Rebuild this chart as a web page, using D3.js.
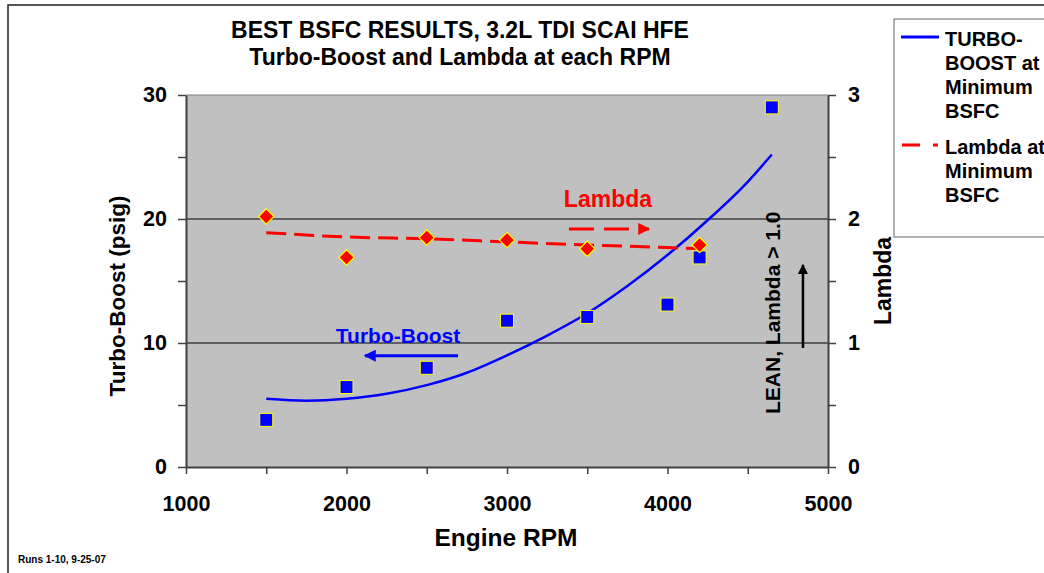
<!DOCTYPE html>
<html><head><meta charset="utf-8">
<script src="https://cdn.jsdelivr.net/npm/d3@7"></script>
<style>
html,body{margin:0;padding:0;background:#fff;}
svg{display:block;font-family:"Liberation Sans",Arial,sans-serif;font-weight:bold;}
</style></head>
<body>
<script>
// ---- data ----
const boostRpm = [1500, 2000, 2500, 3000, 3500, 4000, 4200, 4650];
const boostPsig = [3.8, 6.45, 8.0, 11.8, 12.1, 13.1, 16.9, 29.0];
const lambdaRpm = [1500, 2000, 2500, 3000, 3500, 4200];
const lambdaVal = [2.02, 1.69, 1.85, 1.83, 1.76, 1.79];
const boostTrendRpm = [1500, 1750, 2000, 2250, 2500, 2750, 3000, 3250, 3500, 3750, 4000, 4250, 4500, 4650];
const boostTrendVal = [5.5, 5.35, 5.5, 5.9, 6.6, 7.6, 9.0, 10.6, 12.4, 14.6, 17.1, 19.9, 23.0, 25.2];
const lambdaTrendRpm = [1500, 2000, 2500, 3000, 3500, 4000, 4200];
const lambdaTrendVal = [1.89, 1.855, 1.84, 1.815, 1.79, 1.77, 1.76];
const xTicks = [1000, 2000, 3000, 4000, 5000];
const yLeftTicks = [0, 10, 20, 30];
const yRightTicks = [0, 1, 2, 3];
const titleLines = ["BEST BSFC RESULTS, 3.2L TDI SCAI HFE", "Turbo-Boost and Lambda at each RPM"];
const legendBoost = ["TURBO-", "BOOST at", "Minimum", "BSFC"];
const legendLambda = ["Lambda at", "Minimum", "BSFC"];

const W = 1044, H = 573;
const plot = {l: 186, r: 828, t: 95, b: 467};

const svg = d3.select("body").append("svg").attr("width", W).attr("height", H);

// outer frame
svg.append("rect").attr("x", 8).attr("y", 5).attr("width", 1200).attr("height", 800)
  .attr("fill", "none").attr("stroke", "#222").attr("stroke-width", 1.5);

const x = d3.scaleLinear().domain([1000, 5000]).range([plot.l, plot.r]);
const yL = d3.scaleLinear().domain([0, 30]).range([plot.b, plot.t]);
const yR = d3.scaleLinear().domain([0, 3]).range([plot.b, plot.t]);

// plot background
svg.append("rect").attr("x", plot.l).attr("y", plot.t).attr("width", plot.r - plot.l).attr("height", plot.b - plot.t)
  .attr("fill", "#C0C0C0");
svg.append("line").attr("x1", plot.l).attr("x2", plot.r).attr("y1", plot.t).attr("y2", plot.t)
  .attr("stroke", "#808080").attr("stroke-width", 1);

// gridlines
svg.append("g").selectAll("line").data([10, 20]).join("line")
  .attr("x1", plot.l).attr("x2", plot.r).attr("y1", d => yL(d)).attr("y2", d => yL(d))
  .attr("stroke", "#000").attr("stroke-width", 1);

// axes
function styleAxis(g) {
  g.select(".domain").attr("stroke", "#404040").attr("stroke-width", 2);
  g.selectAll(".tick line").attr("stroke", "#404040").attr("stroke-width", 1.5);
  g.selectAll("text").attr("fill", "#000").attr("font-size", 21.5).attr("font-weight", "bold")
    .attr("font-family", "Liberation Sans, Arial, sans-serif");
}
svg.append("g").attr("transform", `translate(0,${plot.b})`)
  .call(d3.axisBottom(x).tickValues(d3.range(1000, 5001, 500)).tickSize(7).tickSizeOuter(0).tickPadding(22)
    .tickFormat(d => xTicks.includes(d) ? d : ""))
  .call(styleAxis);
svg.append("g").attr("transform", `translate(${plot.l},0)`)
  .call(d3.axisLeft(yL).tickValues(d3.range(0, 31, 5)).tickSize(8).tickSizeOuter(0).tickPadding(11)
    .tickFormat(d => yLeftTicks.includes(d) ? d : ""))
  .call(styleAxis);
svg.append("g").attr("transform", `translate(${plot.r},0)`)
  .call(d3.axisRight(yR).tickValues(d3.range(0, 3.01, 0.5)).tickSize(8).tickSizeOuter(0).tickPadding(12)
    .tickFormat(d => yRightTicks.includes(d) ? d : ""))
  .call(styleAxis);

// trend lines
svg.append("path").datum(boostTrendRpm.map((r, i) => [r, boostTrendVal[i]]))
  .attr("d", d3.line().x(d => x(d[0])).y(d => yL(d[1])).curve(d3.curveMonotoneX))
  .attr("fill", "none").attr("stroke", "#0000FF").attr("stroke-width", 2.5);
svg.append("path").datum(lambdaTrendRpm.map((r, i) => [r, lambdaTrendVal[i]]))
  .attr("d", d3.line().x(d => x(d[0])).y(d => yR(d[1])).curve(d3.curveMonotoneX))
  .attr("fill", "none").attr("stroke", "#FF0000").attr("stroke-width", 3).attr("stroke-dasharray", "20,8");

// markers
svg.append("g").selectAll("rect").data(boostRpm.map((r, i) => [r, boostPsig[i]])).join("rect")
  .attr("x", d => x(d[0]) - 6.5).attr("y", d => yL(d[1]) - 6.5).attr("width", 13).attr("height", 13)
  .attr("fill", "#0000FF").attr("stroke", "#FFFF00").attr("stroke-width", 1);
svg.append("g").selectAll("path").data(lambdaRpm.map((r, i) => [r, lambdaVal[i]])).join("path")
  .attr("d", d3.symbol().type(d3.symbolDiamond2).size(150))
  .attr("transform", d => `translate(${x(d[0])},${yR(d[1])})`)
  .attr("fill", "#FF0000").attr("stroke", "#FFFF00").attr("stroke-width", 1.2);

// arrow markers
const defs = svg.append("defs");
function arrow(id, color) {
  defs.append("marker").attr("id", id).attr("viewBox", "0 0 10 10").attr("refX", 9).attr("refY", 5)
    .attr("markerWidth", 4).attr("markerHeight", 4).attr("orient", "auto").attr("markerUnits", "strokeWidth")
    .append("path").attr("d", "M0,0L10,5L0,10z").attr("fill", color);
}
arrow("aBlue", "#0000FF"); arrow("aRed", "#FF0000"); arrow("aBlack", "#000");

// annotations
svg.append("text").attr("x", x(2321)).attr("y", yL(10.0)).attr("text-anchor", "middle")
  .attr("font-size", 21).attr("fill", "#0000FF").text("Turbo-Boost");
svg.append("line").attr("x1", x(2695)).attr("x2", x(2115)).attr("y1", yL(8.98)).attr("y2", yL(8.98))
  .attr("stroke", "#0000FF").attr("stroke-width", 3).attr("marker-end", "url(#aBlue)");
svg.append("text").attr("x", x(3629)).attr("y", yR(2.097)).attr("text-anchor", "middle")
  .attr("font-size", 23).attr("fill", "#FF0000").text("Lambda");
svg.append("line").attr("x1", x(3386)).attr("x2", x(3885)).attr("y1", yR(1.92)).attr("y2", yR(1.92))
  .attr("stroke", "#FF0000").attr("stroke-width", 3).attr("stroke-dasharray", "25,10").attr("marker-end", "url(#aRed)");
svg.append("text").attr("transform", `translate(${x(4651) + 8},${yR(1.26) + 2}) rotate(-90)`).attr("text-anchor", "middle")
  .attr("font-size", 21).attr("fill", "#000").text("LEAN, Lambda > 1.0");
svg.append("line").attr("x1", x(4844)).attr("x2", x(4844)).attr("y1", yR(0.96)).attr("y2", yR(1.63))
  .attr("stroke", "#000").attr("stroke-width", 2.5).attr("marker-end", "url(#aBlack)");

// titles
svg.append("g").selectAll("text").data(titleLines).join("text")
  .attr("x", 460).attr("y", (d, i) => 38 + i * 27).attr("text-anchor", "middle")
  .attr("font-size", 23).text(d => d);
svg.append("text").attr("transform", `translate(125,296) rotate(-90)`).attr("text-anchor", "middle")
  .attr("font-size", 22.5).text("Turbo-Boost (psig)");
svg.append("text").attr("transform", `translate(891,281) rotate(-90)`).attr("text-anchor", "middle")
  .attr("font-size", 23).text("Lambda");
svg.append("text").attr("x", 506).attr("y", 546).attr("text-anchor", "middle")
  .attr("font-size", 24.5).text("Engine RPM");
svg.append("text").attr("x", 18).attr("y", 563).attr("font-size", 10).text("Runs 1-10, 9-25-07");

// legend
svg.append("rect").attr("x", 894).attr("y", 19).attr("width", 300).attr("height", 218)
  .attr("fill", "#fff").attr("stroke", "#666").attr("stroke-width", 1);
svg.append("line").attr("x1", 901).attr("x2", 939).attr("y1", 37).attr("y2", 37)
  .attr("stroke", "#0000FF").attr("stroke-width", 3);
svg.append("line").attr("x1", 902).attr("x2", 939).attr("y1", 145).attr("y2", 145)
  .attr("stroke", "#FF0000").attr("stroke-width", 3).attr("stroke-dasharray", "18,13,5,20");
svg.append("g").selectAll("text").data(legendBoost).join("text")
  .attr("x", 945).attr("y", (d, i) => 46 + i * 24).attr("font-size", 20).text(d => d);
svg.append("g").selectAll("text").data(legendLambda).join("text")
  .attr("x", 945).attr("y", (d, i) => 154 + i * 24).attr("font-size", 20).text(d => d);
</script>
</body></html>
